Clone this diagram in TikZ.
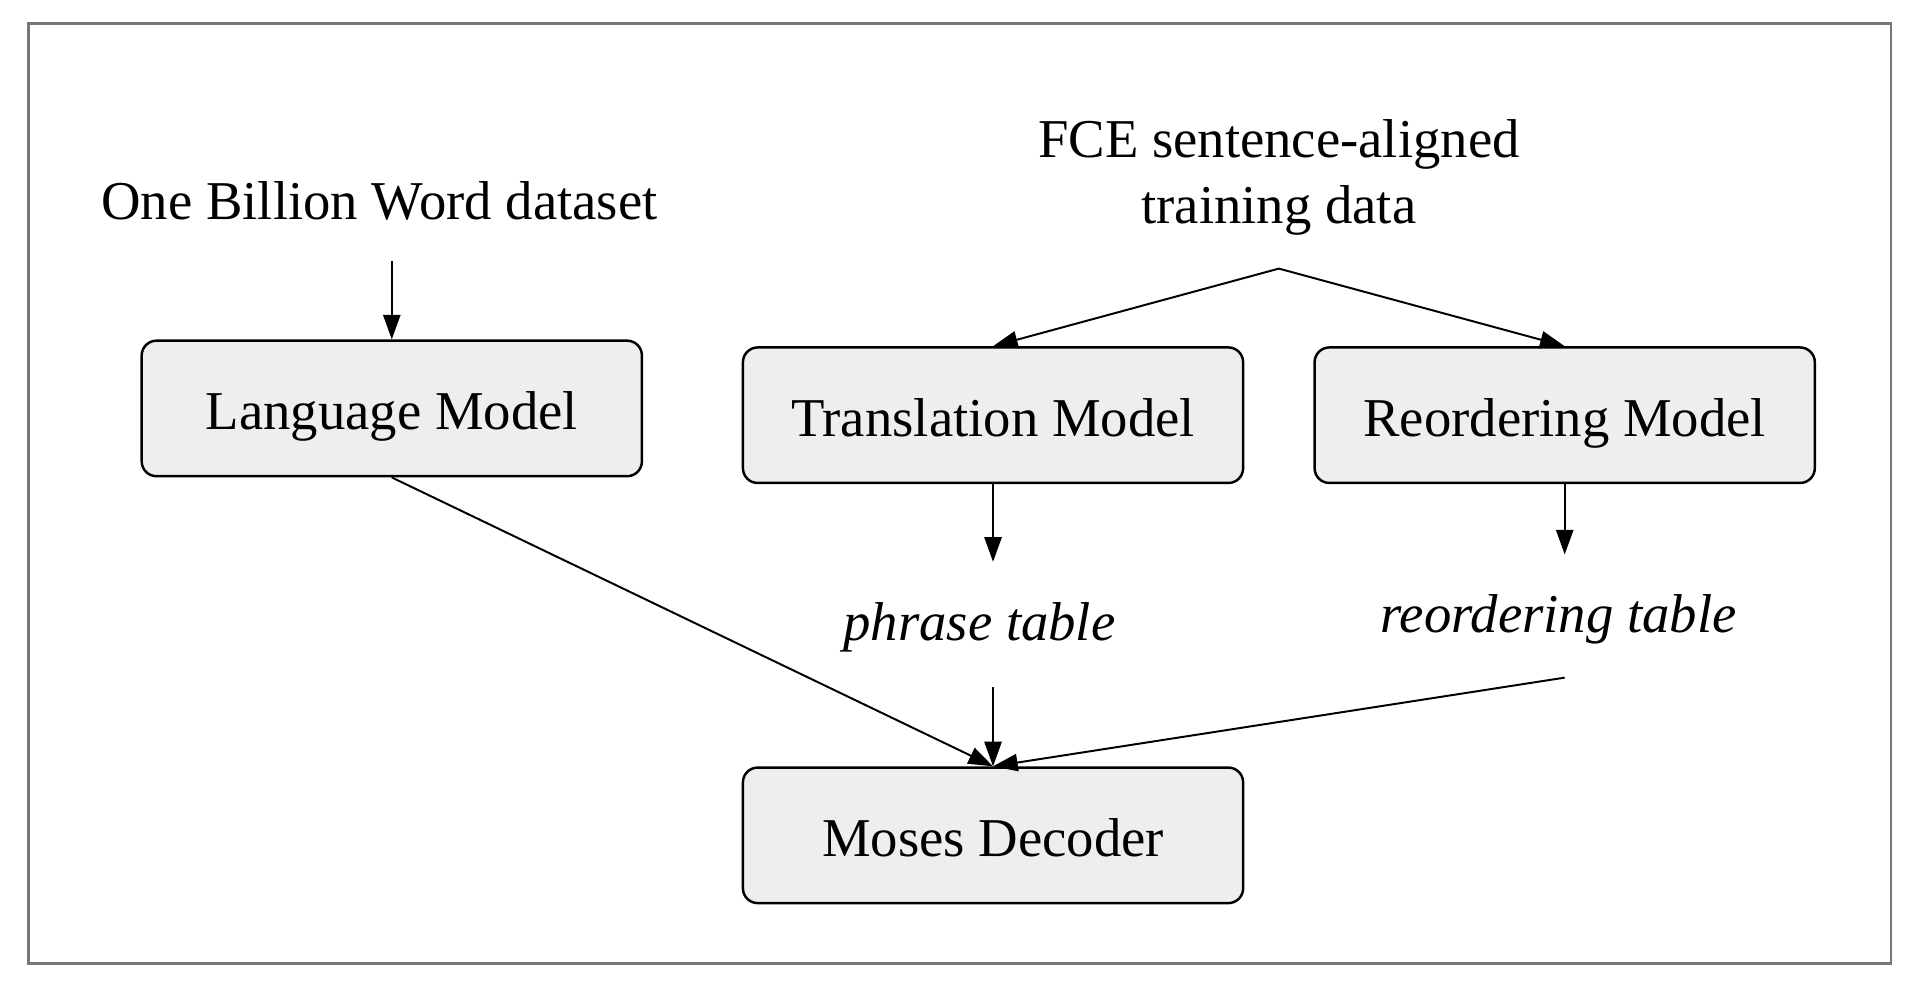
\documentclass[tikz,border=0pt]{standalone}
\usepackage{fontspec}
\setmainfont{Liberation Serif}
\usetikzlibrary{arrows.meta}
\begin{document}
\begin{tikzpicture}[x=0.5pt,y=-0.5pt,
  font=\fontsize{22.2}{27}\selectfont,
  box/.style={draw=black, line width=1pt, fill=boxgray, rounded corners=6pt,
    minimum width=203pt, minimum height=55pt, inner sep=0pt,
    text height=18.5pt, text depth=1.5pt},
  lbl/.style={inner sep=0pt, align=center},
  arr/.style={draw=black, line width=0.8pt, -{Triangle[length=10pt,width=7pt]}}]
\definecolor{boxgray}{HTML}{EEEEEE}
\definecolor{framegray}{HTML}{777777}
\useasboundingbox (0,0) rectangle (1560,815);
\draw[framegray, line width=1pt] (23,19) rectangle (1535,782);
% nodes
\node[box] (lm) at (318,331.5) {Language Model};
\node[box] (tm) at (806,337) {Translation Model};
\node[box] (rm) at (1270,337) {Reordering Model};
\node[box] (md) at (806,678) {Moses Decoder};
\node[lbl] (obw) at (308,163) {One Billion Word dataset};
\node[lbl] (fce) at (1038,144) {FCE sentence-aligned\\training data};
\node[lbl] (pt) at (795,509) {\itshape phrase table};
\node[lbl] (rt) at (1265,503) {\itshape reordering table};
% coordinates
\coordinate (obwa) at (318,212);
\coordinate (apex) at (1038,218);
\coordinate (pttop) at (806,456);
\coordinate (rttop) at (1270,450);
\coordinate (ptbot) at (806,558);
\coordinate (rtbot) at (1270,550);
% connectors
\draw[arr] (obwa) -- (lm.north);
\draw[arr] (apex) -- (tm.north);
\draw[arr] (apex) -- (rm.north);
\draw[arr] (tm.south) -- (pttop);
\draw[arr] (rm.south) -- (rttop);
\draw[arr] (ptbot) -- (md.north);
\draw[arr] (lm.south) -- (md.north);
\draw[arr] (rtbot) -- (md.north);
\end{tikzpicture}
\end{document}
